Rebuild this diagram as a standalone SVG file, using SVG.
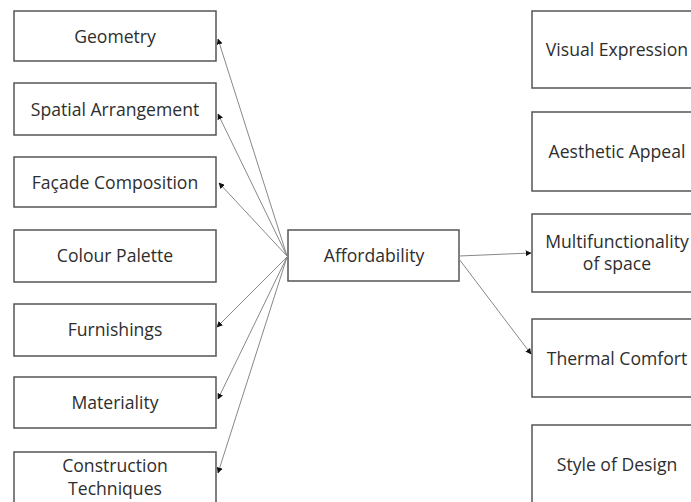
<svg xmlns="http://www.w3.org/2000/svg" width="691" height="502" viewBox="0 0 691 502">
<style>
.box{fill:#fff;stroke:#555;stroke-width:1.5}
.t{font-family:"Open Sans","Liberation Sans",sans-serif;font-size:17.6px;fill:#2e2e2e;text-anchor:middle;font-variant-ligatures:none}
.c{stroke:#888;stroke-width:1;fill:none;marker-end:url(#ah)}
</style>
<defs>
<marker id="ah" viewBox="0 0 10 10" refX="9" refY="5" markerWidth="6" markerHeight="6" markerUnits="userSpaceOnUse" orient="auto">
<path d="M0,0 L10,5 L0,10 z" fill="#111"/>
</marker>
</defs>
<rect width="691" height="502" fill="#fff"/>
<g id="geometry"><rect class="box" x="14" y="11" width="202" height="50"/><text class="t" x="115" y="43">Geometry</text></g>
<g id="spatial"><rect class="box" x="14" y="83" width="202" height="52"/><text class="t" x="115" y="116">Spatial Arrangement</text></g>
<g id="facade"><rect class="box" x="14" y="157" width="202" height="50"/><text class="t" x="115" y="189">Façade Composition</text></g>
<g id="colour"><rect class="box" x="14" y="230" width="202" height="52"/><text class="t" x="115" y="262">Colour Palette</text></g>
<g id="furnishings"><rect class="box" x="14" y="304" width="202" height="52"/><text class="t" x="115" y="336">Furnishings</text></g>
<g id="materiality"><rect class="box" x="14" y="377" width="202" height="51"/><text class="t" x="115" y="409">Materiality</text></g>
<g id="construction"><rect class="box" x="14" y="452" width="202" height="54"/><text class="t" x="115" y="472">Construction</text><text class="t" x="115" y="495">Techniques</text></g>
<g id="affordability"><rect class="box" x="288" y="230" width="171" height="51"/><text class="t" x="374" y="262">Affordability</text></g>
<g id="visual"><rect class="box" x="532" y="11" width="168" height="77"/><text class="t" x="617" y="56">Visual Expression</text></g>
<g id="aesthetic"><rect class="box" x="532" y="112" width="168" height="79"/><text class="t" x="617" y="158">Aesthetic Appeal</text></g>
<g id="multi"><rect class="box" x="532" y="214" width="168" height="78"/><text class="t" x="617" y="248">Multifunctionality</text><text class="t" x="617" y="270">of space</text></g>
<g id="thermal"><rect class="box" x="532" y="319" width="168" height="78"/><text class="t" x="617" y="365">Thermal Comfort</text></g>
<g id="style"><rect class="box" x="532" y="425" width="168" height="80"/><text class="t" x="617" y="471">Style of Design</text></g>
<g id="connectors">
<line class="c" x1="287" y1="256" x2="218" y2="39"/>
<line class="c" x1="287" y1="256" x2="218" y2="114"/>
<line class="c" x1="287" y1="256" x2="219" y2="183"/>
<line class="c" x1="287" y1="257" x2="217" y2="327"/>
<line class="c" x1="287" y1="257" x2="218" y2="399"/>
<line class="c" x1="287" y1="257" x2="218" y2="473"/>
<line class="c" x1="459" y1="256" x2="531" y2="253"/>
<line class="c" x1="459" y1="259" x2="531" y2="354"/>
</g>
</svg>
